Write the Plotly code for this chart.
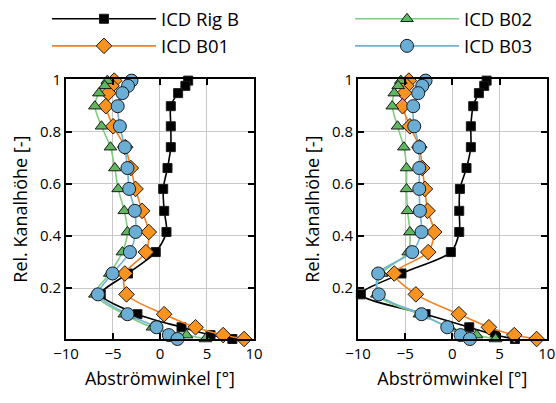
import plotly.graph_objects as go
from plotly.subplots import make_subplots

heights = [0.995, 0.975, 0.947, 0.897, 0.82, 0.74, 0.66, 0.58, 0.496, 0.415,
           0.338, 0.256, 0.176, 0.10, 0.05, 0.02, 0.005]

# Left panel (Abströmwinkel in degrees)
left_rigb = [3.0, 2.7, 1.93, 1.15, 1.15, 1.15, 0.8, 0.34, 0.45, 0.69,
             -0.45, -3.4, -6.3, -2.4, 2.29, 5.37, 7.7]
left_b01 = [-4.87, -5.16, -5.5, -5.76, -4.98, -3.7, -3.1, -2.6, -1.9, -1.19,
            -1.5, -3.74, -3.56, 0.44, 3.78, 6.72, 8.95]
left_b02 = [-5.6, -5.87, -6.5, -6.93, -6.22, -5.27, -4.8, -4.45, -3.8, -3.46,
            -4.0, -5.34, -6.93, -3.8, -0.8, 2.82, 4.84]
left_b03 = [-3.03, -3.4, -4.0, -4.5, -4.27, -3.74, -3.46, -3.28, -2.68, -2.6,
            -3.2, -5.05, -6.6, -3.46, -0.37, 0.94, 1.86]

# Right panel
right_rigb = [3.63, 3.38, 2.81, 2.21, 1.96, 1.96, 1.5, 0.8, 0.73, 0.73,
              -0.16, -5.39, -9.7, -2.84, 1.79, 4.51, 6.63]
right_b01 = [-4.61, -4.86, -5.1, -5.28, -4.5, -3.5, -3.19, -2.91, -2.63, -1.92,
             -2.56, -6.16, -3.87, 0.69, 3.87, 6.56, 8.93]
right_b02 = [-5.46, -5.74, -6.16, -6.37, -5.81, -5.14, -4.86, -4.86, -4.75, -4.5,
             -4.68, -7.5, -8.0, -3.5, -0.3, 2.57, 4.58]
right_b03 = [-2.84, -3.19, -3.62, -4.15, -4.04, -3.51, -3.51, -3.51, -3.44, -3.27,
             -4.25, -7.86, -7.8, -3.27, -0.54, 0.87, 1.86]

names = ["ICD Rig B", "ICD B01", "ICD B02", "ICD B03"]
x_ticks = [-10, -5, 0, 5, 10]
y_ticks = [0.2, 0.4, 0.6, 0.8, 1]
y_ticktext = ["0.2", "0.4", "0.6", "0.8", "1"]

FONT = "Open Sans"
styles = {
    "ICD Rig B": dict(line="#000000", fill="#000000", symbol="square", size=9, legend="legend"),
    "ICD B01": dict(line="#f47f20", fill="#f7931e", symbol="diamond", size=12, legend="legend"),
    "ICD B02": dict(line="#80cc80", fill="#5fb760", symbol="triangle-up", size=11, legend="legend2"),
    "ICD B03": dict(line="#6fb2d8", fill="#6aaed6", symbol="circle", size=13, legend="legend2"),
}

fig = make_subplots(rows=1, cols=2)

panels = [
    (1, [left_rigb, left_b01, left_b02, left_b03]),
    (2, [right_rigb, right_b01, right_b02, right_b03]),
]
for col, series in panels:
    for name, xs in zip(names, series):
        st = styles[name]
        fig.add_trace(go.Scatter(
            x=xs, y=heights, mode="lines+markers", name=name,
            line=dict(color=st["line"], width=1.6, shape="spline", smoothing=0.8),
            marker=dict(symbol=st["symbol"], size=st["size"], color=st["fill"],
                        line=dict(color="#1a1a1a", width=1)),
            cliponaxis=False,
            showlegend=(col == 1), legend=st["legend"],
        ), row=1, col=col)

axis_common = dict(
    showline=True, linecolor="black", linewidth=2, mirror="ticks",
    ticks="inside", ticklen=6, tickwidth=1.5, tickcolor="black",
    showgrid=True, gridcolor="#c8c8c8", gridwidth=1.2, zeroline=False,
    tickfont=dict(family=FONT, size=15, color="black"), automargin=False,
)

fig.update_xaxes(range=[-10, 10], tickvals=x_ticks, **axis_common,
                 title=dict(text="Abströmwinkel [°]", font=dict(family=FONT, size=18, color="black"), standoff=10))
fig.update_yaxes(range=[0.005, 1], tickvals=y_ticks, ticktext=y_ticktext, **axis_common,
                 title=dict(text="Rel. Kanalhöhe [-]", font=dict(family=FONT, size=18, color="black"), standoff=8))

legend_common = dict(yanchor="top", xanchor="left", orientation="v",
                     font=dict(family=FONT, size=18.5, color="black"), bgcolor="rgba(0,0,0,0)",
                     tracegroupgap=0, itemwidth=104)

TOP = 12
plot_h = 403 - TOP
fig.update_layout(
    width=556, height=403,
    margin=dict(l=0, r=0, t=TOP, b=0),
    paper_bgcolor="white", plot_bgcolor="white",
    xaxis=dict(domain=[0.1187, 0.4568]),
    xaxis2=dict(domain=[0.6439, 0.9833]),
    yaxis=dict(domain=[(403 - 339) / plot_h, (403 - 79.3) / plot_h]),
    yaxis2=dict(domain=[(403 - 339) / plot_h, (403 - 79.3) / plot_h]),
    legend=dict(x=0.0845, y=1.03, **legend_common),
    legend2=dict(x=0.6295, y=1.03, **legend_common),
    showlegend=True,
)

fig.write_html("out.html")
